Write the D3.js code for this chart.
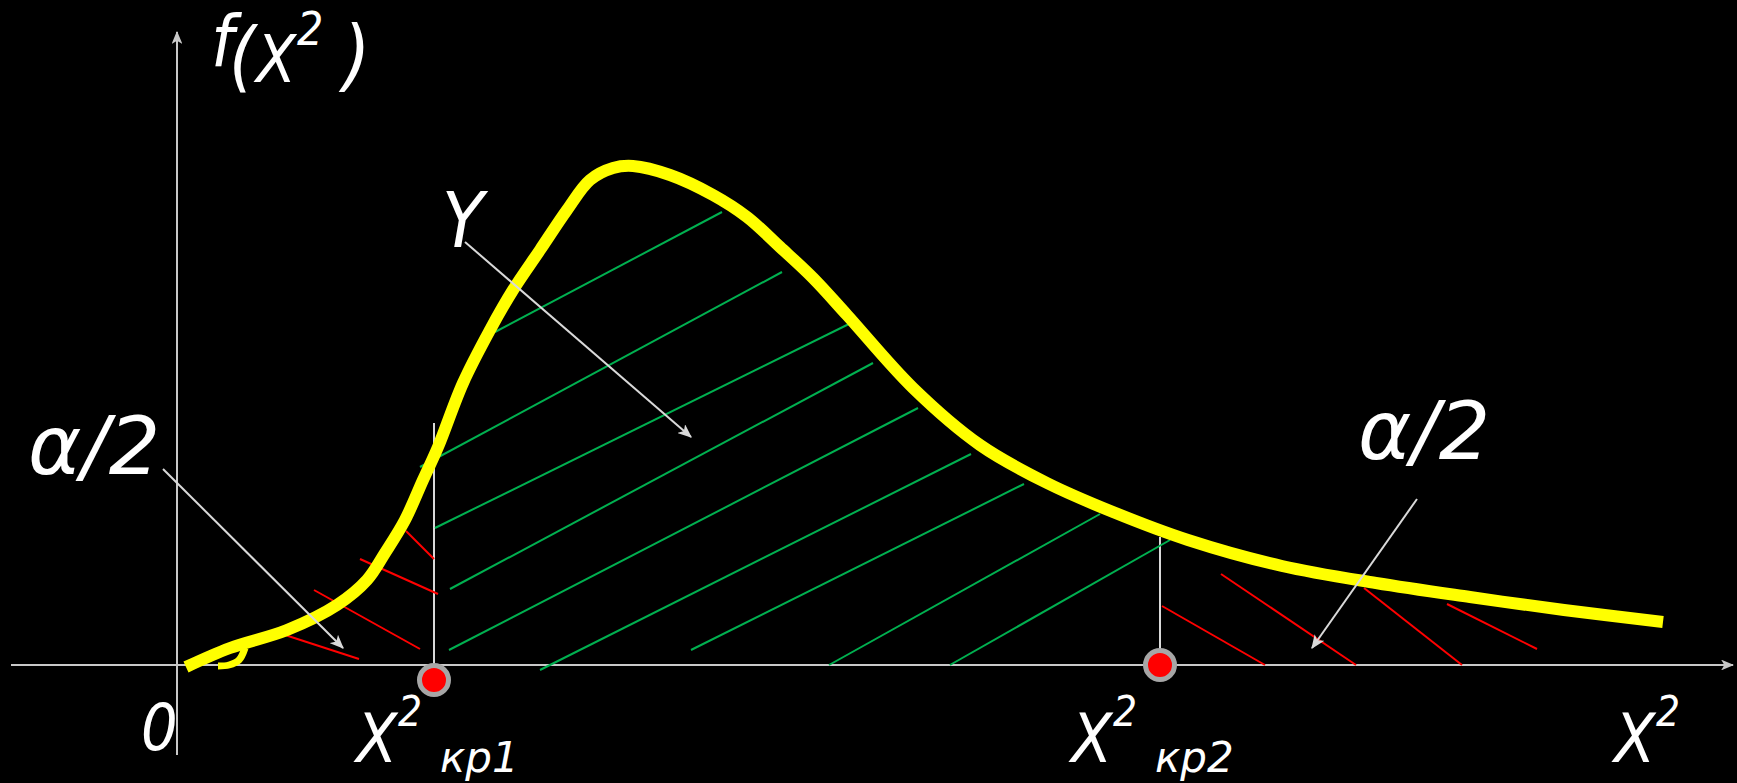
<!DOCTYPE html>
<html>
<head>
<meta charset="utf-8">
<script src="https://cdn.jsdelivr.net/npm/d3@7"></script>
<style>
  html, body { margin: 0; padding: 0; background: #000; }
  svg { display: block; }
  .lbl { fill: #fff; font-family: "DejaVu Sans Condensed", "DejaVu Sans", sans-serif; font-style: oblique; font-stretch: condensed; }
  .wide { font-family: "DejaVu Sans", sans-serif; font-stretch: normal; }
</style>
</head>
<body>
<svg id="chart"></svg>
<script>
// chi-square density sketch, units: 1 = 100px
var curveX = [0.09, 0.53, 1.10, 1.60, 1.90, 2.08, 2.28, 2.46, 2.61, 2.86, 3.13, 3.36, 3.63, 3.90, 4.13, 4.36, 4.56, 4.93, 5.36, 5.70, 6.03, 6.36, 6.70, 7.36, 8.03, 8.70, 9.36, 10.11, 11.05, 11.99, 12.93, 13.87, 14.86];
var curveY = [-0.02, 0.17, 0.35, 0.60, 0.85, 1.12, 1.45, 1.85, 2.18, 2.82, 3.35, 3.75, 4.15, 4.55, 4.85, 4.97, 4.99, 4.90, 4.70, 4.48, 4.18, 3.87, 3.50, 2.77, 2.20, 1.82, 1.53, 1.25, 0.99, 0.82, 0.68, 0.55, 0.43];

// little curl at the start of the curve
var hookX = [0.68, 0.62, 0.52, 0.41];
var hookY = [0.17, 0.05, 0.00, -0.01];

// critical points
var critX = [2.57, 9.83];
var critTop = [2.42, 1.28];
var dotY = [-0.15, 0];
var critSub = ["кр1", "кр2"];

// hatching [x1, y1, x2, y2]
var hatchGreen = [
  [3.18, 3.33, 5.45, 4.53],
  [2.43, 1.98, 6.05, 3.93],
  [2.58, 1.37, 6.78, 3.44],
  [2.73, 0.76, 6.96, 3.02],
  [2.72, 0.15, 7.41, 2.57],
  [3.63, -0.05, 7.94, 2.11],
  [5.14, 0.15, 8.47, 1.81],
  [6.52, 0.00, 9.23, 1.51],
  [7.73, 0.00, 9.93, 1.25]
];
var hatchRed = [
  [2.29, 1.34, 2.57, 1.06],
  [1.83, 1.06, 2.61, 0.71],
  [1.37, 0.75, 2.43, 0.16],
  [1.05, 0.31, 1.82, 0.06],
  [9.85, 0.59, 10.88, 0.00],
  [10.44, 0.91, 11.79, 0.00],
  [11.87, 0.77, 12.85, 0.00],
  [12.70, 0.61, 13.60, 0.16]
];

// pointer arrows [x1, y1, x2, y2]
var pointers = [
  [2.88, 4.23, 5.14, 2.28],
  [-0.14, 1.96, 1.66, 0.17],
  [12.40, 1.66, 11.35, 0.17]
];

var xAxisRange = [-1.66, 15.56];
var yAxisRange = [-0.9, 6.33];

var W = 1737, H = 783;

var svg = d3.select("#chart").attr("width", W).attr("height", H);
svg.append("rect").attr("width", W).attr("height", H).attr("fill", "#000");

var x = d3.scaleLinear().domain([0, 15.56]).range([177, 1733]);
var y = d3.scaleLinear().domain([0, 6.33]).range([665, 32]);

var defs = svg.append("defs");
function arrowMarker(id, color, size) {
  defs.append("marker")
    .attr("id", id)
    .attr("viewBox", "0 0 12 10")
    .attr("refX", 11).attr("refY", 5)
    .attr("markerUnits", "userSpaceOnUse")
    .attr("markerWidth", size).attr("markerHeight", size * 10 / 12)
    .attr("orient", "auto")
    .append("path")
    .attr("d", "M0,0 L12,5 L0,10 L3,5 Z")
    .attr("fill", color);
}
arrowMarker("axArrow", "#c8c8c8", 13);
arrowMarker("ptArrow", "#d9d9d9", 14);

// axes
svg.append("line")
  .attr("x1", x(xAxisRange[0])).attr("x2", x(xAxisRange[1]))
  .attr("y1", y(0)).attr("y2", y(0))
  .attr("stroke", "#c8c8c8").attr("stroke-width", 2)
  .attr("marker-end", "url(#axArrow)");
svg.append("line")
  .attr("x1", x(0)).attr("x2", x(0))
  .attr("y1", y(yAxisRange[0])).attr("y2", y(yAxisRange[1]))
  .attr("stroke", "#c8c8c8").attr("stroke-width", 2)
  .attr("marker-end", "url(#axArrow)");

// verticals at the critical values
svg.selectAll(".crit")
  .data(critX)
  .enter().append("line")
  .attr("class", "crit")
  .attr("x1", function (d) { return x(d); })
  .attr("x2", function (d) { return x(d); })
  .attr("y1", function (d, i) { return y(critTop[i]); })
  .attr("y2", y(0))
  .attr("stroke", "#d9d9d9").attr("stroke-width", 2);

// hatching
function hatch(data, color) {
  svg.append("g").selectAll("line")
    .data(data)
    .enter().append("line")
    .attr("x1", function (d) { return x(d[0]); })
    .attr("y1", function (d) { return y(d[1]); })
    .attr("x2", function (d) { return x(d[2]); })
    .attr("y2", function (d) { return y(d[3]); })
    .attr("stroke", color).attr("stroke-width", 2);
}
hatch(hatchGreen, "#00b050");
hatch(hatchRed, "#ff0000");

// the density curve
var line = d3.line()
  .x(function (d) { return x(d[0]); })
  .y(function (d) { return y(d[1]); })
  .curve(d3.curveCatmullRom.alpha(0.5));

svg.append("path")
  .datum(curveX.map(function (d, i) { return [d, curveY[i]]; }))
  .attr("d", line)
  .attr("fill", "none")
  .attr("stroke", "#ffff00")
  .attr("stroke-width", 12)
  .attr("stroke-linecap", "butt")
  .attr("stroke-linejoin", "round");

svg.append("path")
  .datum(hookX.map(function (d, i) { return [d, hookY[i]]; }))
  .attr("d", line)
  .attr("fill", "none")
  .attr("stroke", "#ffff00")
  .attr("stroke-width", 7);

// pointers
svg.append("g").selectAll("line")
  .data(pointers)
  .enter().append("line")
  .attr("x1", function (d) { return x(d[0]); })
  .attr("y1", function (d) { return y(d[1]); })
  .attr("x2", function (d) { return x(d[2]); })
  .attr("y2", function (d) { return y(d[3]); })
  .attr("stroke", "#d9d9d9").attr("stroke-width", 2)
  .attr("marker-end", "url(#ptArrow)");

// dots
svg.selectAll(".dot")
  .data(critX)
  .enter().append("circle")
  .attr("class", "dot")
  .attr("cx", function (d) { return x(d); })
  .attr("cy", function (d, i) { return y(dotY[i]); })
  .attr("r", 14.5)
  .attr("fill", "#ff0000")
  .attr("stroke", "#a6a6a6")
  .attr("stroke-width", 5);

// labels
function txt(s, px, py, size) {
  return svg.append("text").attr("class", "lbl")
    .attr("x", px).attr("y", py)
    .style("font-size", size + "px")
    .text(s);
}
function part(t, s, px, py, size, cls) {
  t.append("tspan")
    .attr("x", px).attr("y", py)
    .attr("class", cls || null)
    .style("font-size", size + "px")
    .text(s);
}

// f(X² )
var ft = svg.append("text").attr("class", "lbl");
part(ft, "f", 211, 66, 72);
part(ft, "(", 229, 82, 76);
part(ft, "X", 256, 82, 65);
part(ft, "2", 297, 45, 46);
part(ft, ")", 343, 82, 78);

txt("Y", x(2.65), 247, 76);
txt("α/2", 28, 474, 81).classed("wide", true);
txt("α/2", 1358, 459, 81).classed("wide", true);
txt("0", 141, 750, 64);

// critical labels
function critLabel(px, sub) {
  var t = svg.append("text").attr("class", "lbl");
  part(t, "X", px, 762, 67);
  part(t, "2", px + 42, 726, 42);
  if (sub) part(t, sub, px + 84, 772, 42, "wide");
}
critLabel(x(critX[0]) - 78, critSub[0]);
critLabel(x(critX[1]) - 89, critSub[1]);
critLabel(1614, null);
</script>
</body>
</html>
